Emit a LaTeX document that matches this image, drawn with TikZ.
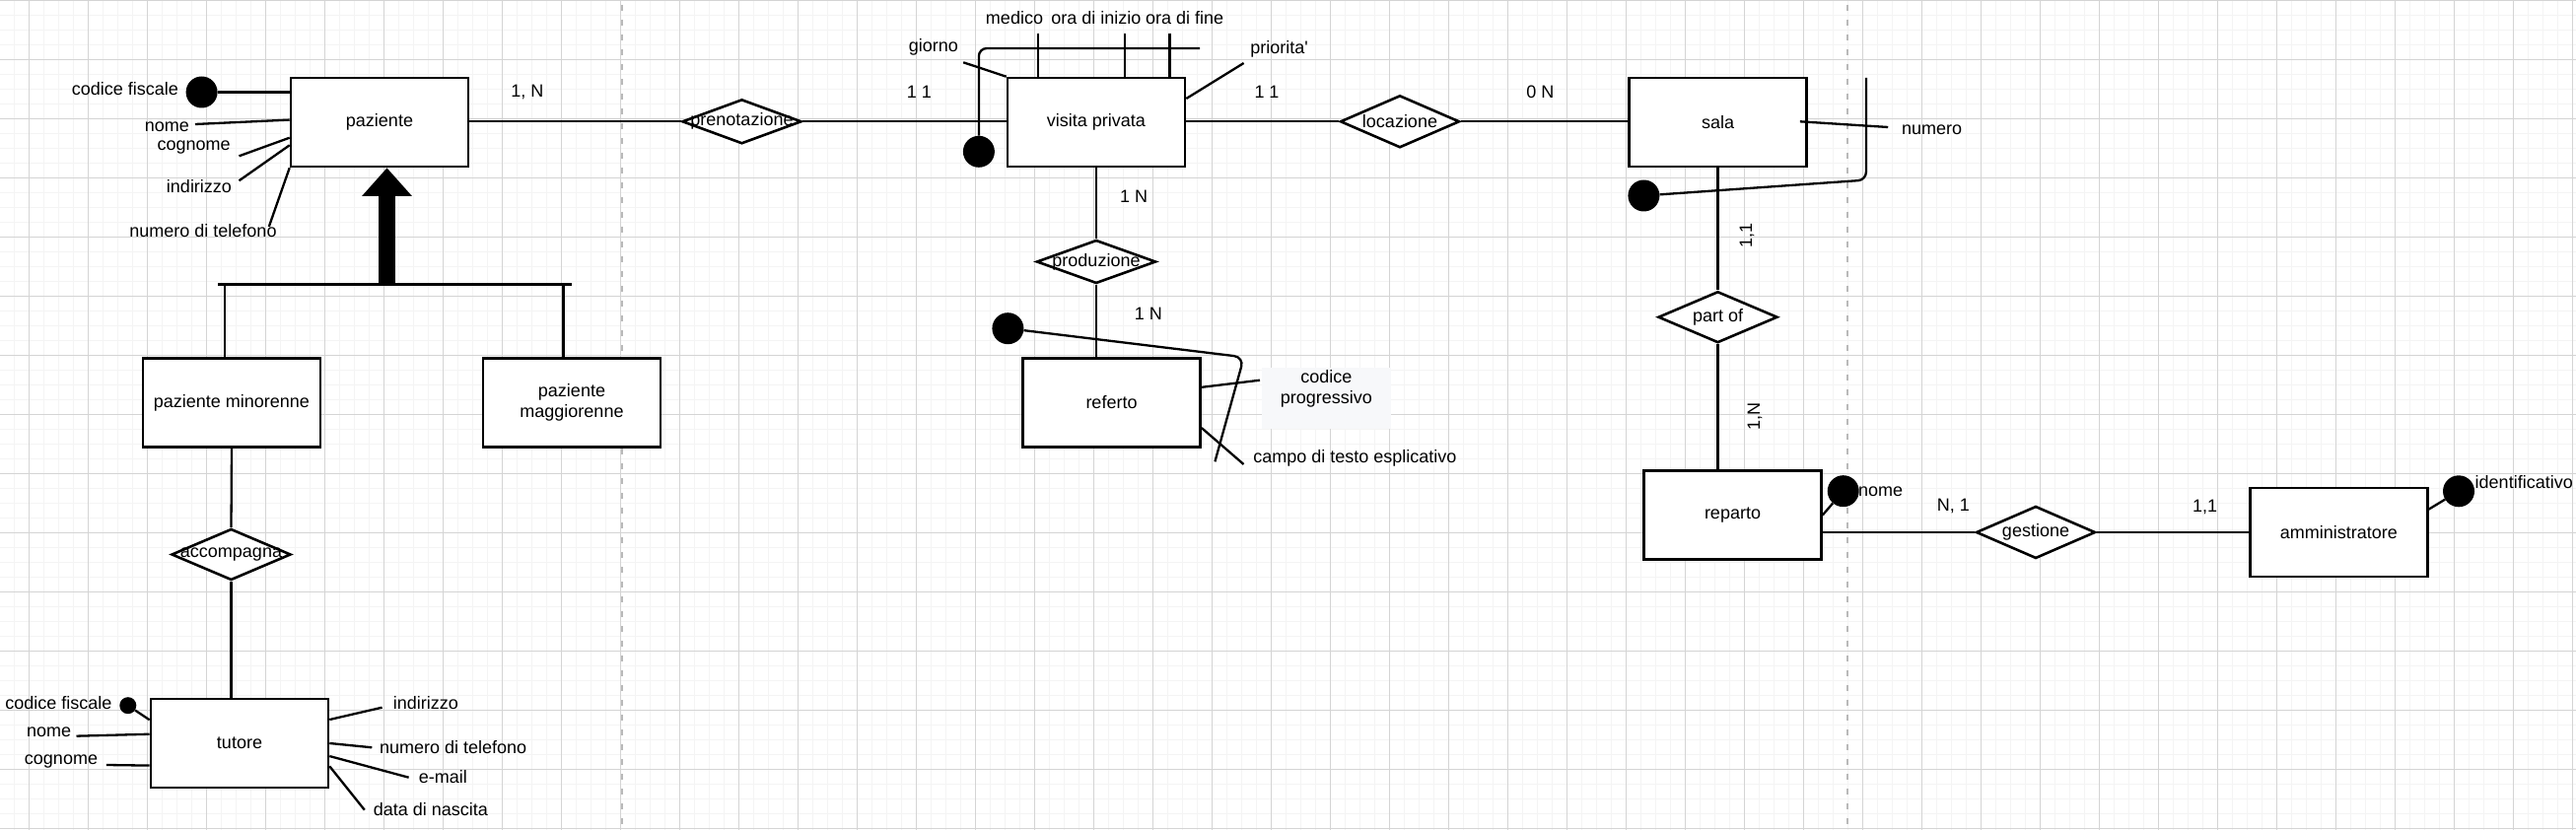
\documentclass[tikz,border=0pt]{standalone}
\usepackage{fontspec}
\newfontfamily\arialf{Liberation Sans}
\usetikzlibrary{shapes.geometric,arrows.meta,calc}
\definecolor{gmin}{RGB}{244,244,244}
\definecolor{gmaj}{RGB}{212,212,212}
\definecolor{sepc}{RGB}{185,185,185}
\definecolor{cpbg}{RGB}{247,248,250}
\begin{document}
\begin{tikzpicture}[x=1pt,y=-1pt,
  every node/.style={font=\arialf\fontsize{18}{21}\selectfont, text=black},
  ent/.style={draw, line width=2.6pt, fill=white, minimum width=180pt, minimum height=90pt, inner sep=0pt, align=center},
  rel/.style={draw, diamond, line width=2.6pt, fill=white, inner sep=0pt, minimum width=121pt, minimum height=52pt},
  conn/.style={line width=2.3pt},
  keydot/.style={circle, fill=black, inner sep=0pt, minimum size=32pt},
  smalldot/.style={circle, fill=black, inner sep=0pt, minimum size=17pt},
  lbl/.style={inner sep=1pt},
  gridminor/.style={gmin, line width=1pt},
  gridmajor/.style={gmaj, line width=1pt},
  sepline/.style={sepc, line width=2pt, dash pattern=on 6pt off 9pt, dash phase=10pt}
]
\useasboundingbox (0,0) rectangle (2613,842);
\fill[white] (0,0) rectangle (2613,842);
% grid
\foreach \i in {0,...,175} \draw[gridminor] ({-0.7+15*\i},0) -- ({-0.7+15*\i},842);
\foreach \j in {0,...,56} \draw[gridminor] (0,{0.3+15*\j}) -- (2613,{0.3+15*\j});
\foreach \i in {0,...,43} \draw[gridmajor] ({29.3+60*\i},0) -- ({29.3+60*\i},842);
\foreach \j in {0,...,14} \draw[gridmajor] (0,{0.3+60*\j}) -- (2613,{0.3+60*\j});
% separators
\draw[sepline] (630.8,0) -- (630.8,842);
\draw[sepline] (1874,0) -- (1874,842);

% entities
\node[ent] (paz) at (385,124) {paziente};
\node[ent] (vis) at (1112,124) {visita privata};
\node[ent] (sala) at (1742.5,124) {sala};
\node[ent] (min) at (235,408.5) {paziente minorenne};
\node[ent] (mag) at (580,408.5) {paziente\\maggiorenne};
\node[ent] (tut) at (243,754) {tutore};
\node[ent] (ref) at (1127.5,408.3) {referto};
\node[ent] (rep) at (1757.5,522.5) {reparto};
\node[ent] (amm) at (2372.3,540) {amministratore};

% relationships
\node[rel, minimum height=45pt, label=center:prenotazione] (pren) at (752.5,123.3) {};
\node[rel, minimum height=44pt, label=center:produzione] (prod) at (1112,265.5) {};
\node[rel, minimum height=53pt, label=center:locazione] (loc) at (1420,123.3) {};
\node[rel, label=center:part of] (part) at (1742.5,321.7) {};
\node[rel, label=center:accompagna] (acc) at (234.5,562.5) {};
\node[rel, minimum height=53pt, label=center:gestione] (ges) at (2065,540) {};

% main connectors
\draw[conn] (pren.west -| paz.east) -- (pren.west);
\draw[conn] (pren.east) -- (pren.east -| vis.west);
\draw[conn] (loc.west -| vis.east) -- (loc.west);
\draw[conn] (loc.east) -- (loc.east -| sala.west);
\draw[conn] (vis.south) -- (prod.north);
\draw[conn] (prod.south) -- (prod.south |- ref.north);
\draw[conn] (sala.south) -- (part.north);
\draw[conn] (part.south) -- (part.south |- rep.north);
\draw[conn] (ges.west -| rep.east) -- (ges.west);
\draw[conn] (ges.east) -- (ges.east -| amm.west);
\draw[conn] (min.south) -- (acc.north);
\draw[conn] (acc.south) -- (acc.south |- tut.north);

% generalization
\coordinate (isaL) at (221,288.5);
\coordinate (isaR) at (579.5,288.5);
\coordinate (isa1) at (227.7,288.5);
\coordinate (isa2) at (571.4,288.5);
\coordinate (isa) at (392.5,288.5);
\draw[conn] (isaL) -- (isaR);
\draw[conn] (isa1) -- (isa1 |- min.north);
\draw[conn] (isa2) -- (isa2 |- mag.north);
\draw[line width=16.6pt, -{Triangle[width=48.7pt,length=28.5pt]}] (isa) -- (isa |- paz.south);

% cardinalities
\node[lbl] (c1) at (534.8,93.3) {1, N};
\node[lbl] (c2) at (932.4,93.3) {1 1};
\node[lbl] (c3) at (1285,93.3) {1 1};
\node[lbl] (c4) at (1562.3,93.3) {0 N};
\node[lbl] (c5) at (1150,199) {1 N};
\node[lbl] (c6) at (1164.9,318.3) {1 N};
\node[lbl, rotate=90] (c7) at (1772,239) {1,1};
\node[lbl, rotate=90] (c8) at (1780,422.7) {1,N};
\node[lbl] (c9) at (1981.3,513) {N, 1};
\node[lbl] (c10) at (2236.7,514) {1,1};

% paziente attributes
\node[keydot] (kpaz) at (204.6,93.5) {};
\node[lbl] (pcf) at (126.9,90) {codice fiscale};
\draw[conn] (kpaz) -- (kpaz -| paz.west);
\node[lbl] (pno) at (169.3,129) {nome};
\node[lbl] (pco) at (196.7,150) {cognome};
\node[lbl] (pin) at (202,189) {indirizzo};
\node[lbl] (pnu) at (206,234.3) {numero di telefono};
\coordinate (pnoE) at (198,126);
\coordinate (pcoE) at (242.5,158.3);
\coordinate (pinE) at (242.5,183.3);
\coordinate (pnuE) at (272.8,230);
\draw[conn] (pnoE) -- ($(paz.north west)!0.474!(paz.south west)$);
\draw[conn] (pcoE) -- ($(paz.north west)!0.67!(paz.south west)$);
\draw[conn] (pinE) -- ($(paz.north west)!0.752!(paz.south west)$);
\draw[conn] (pnuE) -- (paz.south west);

% tutore attributes
\node[smalldot] (ktut) at (129.8,715.7) {};
\node[lbl] (tcf) at (59.3,712.7) {codice fiscale};
\node[lbl] (tno) at (49.7,742.7) {nome};
\node[lbl] (tco) at (62,772.7) {cognome};
\node[lbl] (tin) at (431.8,712.7) {indirizzo};
\node[lbl] (tnu) at (459.6,757.7) {numero di telefono};
\node[lbl] (tem) at (449.4,787.7) {e-mail};
\node[lbl] (tda) at (436.8,821) {data di nascita};
\coordinate (tnoE) at (77.5,746.7);
\coordinate (tcoE) at (107.8,776);
\coordinate (tinE) at (387.6,717.7);
\coordinate (tnuE) at (377.3,758.3);
\coordinate (temE) at (414.6,788.7);
\coordinate (tdaE) at (369.8,821.7);
\draw[conn] (ktut) -- ($(tut.north west)!0.244!(tut.south west)$);
\draw[conn] (tnoE) -- ($(tut.north west)!0.4!(tut.south west)$);
\draw[conn] (tcoE) -- ($(tut.north west)!0.744!(tut.south west)$);
\draw[conn] (tinE) -- ($(tut.north east)!0.241!(tut.south east)$);
\draw[conn] (tnuE) -- (tut.east);
\draw[conn] (temE) -- ($(tut.north east)!0.641!(tut.south east)$);
\draw[conn] (tdaE) -- ($(tut.north east)!0.752!(tut.south east)$);

% visita privata attributes
\node[lbl] (vgi) at (946.8,48.3) {giorno};
\node[lbl] (vme) at (1029,18.3) {medico};
\node[lbl] (vor) at (1112,18.3) {ora di inizio};
\node[lbl] (vof) at (1201.7,18.3) {ora di fine};
\node[lbl] (vpr) at (1297.7,50) {priorita'};
\coordinate (vgiE) at (977.2,63.3);
\coordinate (vmeE) at (1053,34);
\coordinate (vorE) at (1141,34);
\coordinate (vofE) at (1186.6,34);
\coordinate (vprE) at (1261.6,64);
\draw[conn] (vgiE) -- (vis.north west);
\draw[conn] (vmeE) -- (vmeE |- vis.north);
\draw[conn] (vorE) -- (vorE |- vis.north);
\draw[conn] (vofE) -- (vofE |- vis.north);
\draw[conn] (vprE) -- ($(vis.north east)!0.241!(vis.south east)$);
\node[keydot] (kvis) at (992.9,153.8) {};
\coordinate (vk1) at (1217,49);
\coordinate (vk2) at (992.9,49);
\draw[conn, rounded corners=8pt] (vk1) -- (vk2) -- (kvis);

% referto attributes
\node[keydot] (kref) at (1022.4,333.2) {};
\coordinate (rk1) at (1261.8,362.3);
\coordinate (rk2) at (1232.4,468.3);
\draw[conn, rounded corners=10pt] (kref) -- (rk1) -- (rk2);
\node[fill=cpbg, minimum width=130.8pt, minimum height=61.7pt, inner sep=0pt] (cpb) at (1345.1,404.2) {};
\node[lbl, align=center] (rcp) at (1345.3,394.5) {codice\\progressivo};
\node[lbl] (rca) at (1374.4,465) {campo di testo esplicativo};
\coordinate (rcpE) at (1278,385.7);
\coordinate (rcaE) at (1261.5,471);
\draw[conn] (rcpE) -- ($(ref.north east)!0.333!(ref.south east)$);
\draw[conn] (rcaE) -- ($(ref.north east)!0.778!(ref.south east)$);

% sala attributes
\node[lbl] (snu) at (1959.6,131.7) {numero};
\coordinate (snuS) at (1825.9,123.3);
\coordinate (snuE) at (1915.2,129);
\draw[conn] (snuS) -- (snuE);
\node[keydot] (ksala) at (1667.4,198.5) {};
\coordinate (sk1) at (1892.9,79);
\coordinate (sk2) at (1892.9,182.6);
\draw[conn, rounded corners=8pt] (sk1) -- (sk2) -- (ksala);

% reparto attribute
\node[keydot] (krep) at (1869.7,498.2) {};
\draw[conn] (rep.east) -- (krep);
\node[lbl, anchor=west, inner sep=0pt] (rno) at (1885,498.3) {nome};

% amministratore attribute
\node[keydot] (kamm) at (2494,498.3) {};
\draw[conn] ($(amm.north east)!0.248!(amm.south east)$) -- (kamm);
\node[lbl, anchor=west, inner sep=0pt] (aid) at (2510.5,489.3) {identificativo};
\end{tikzpicture}
\end{document}
